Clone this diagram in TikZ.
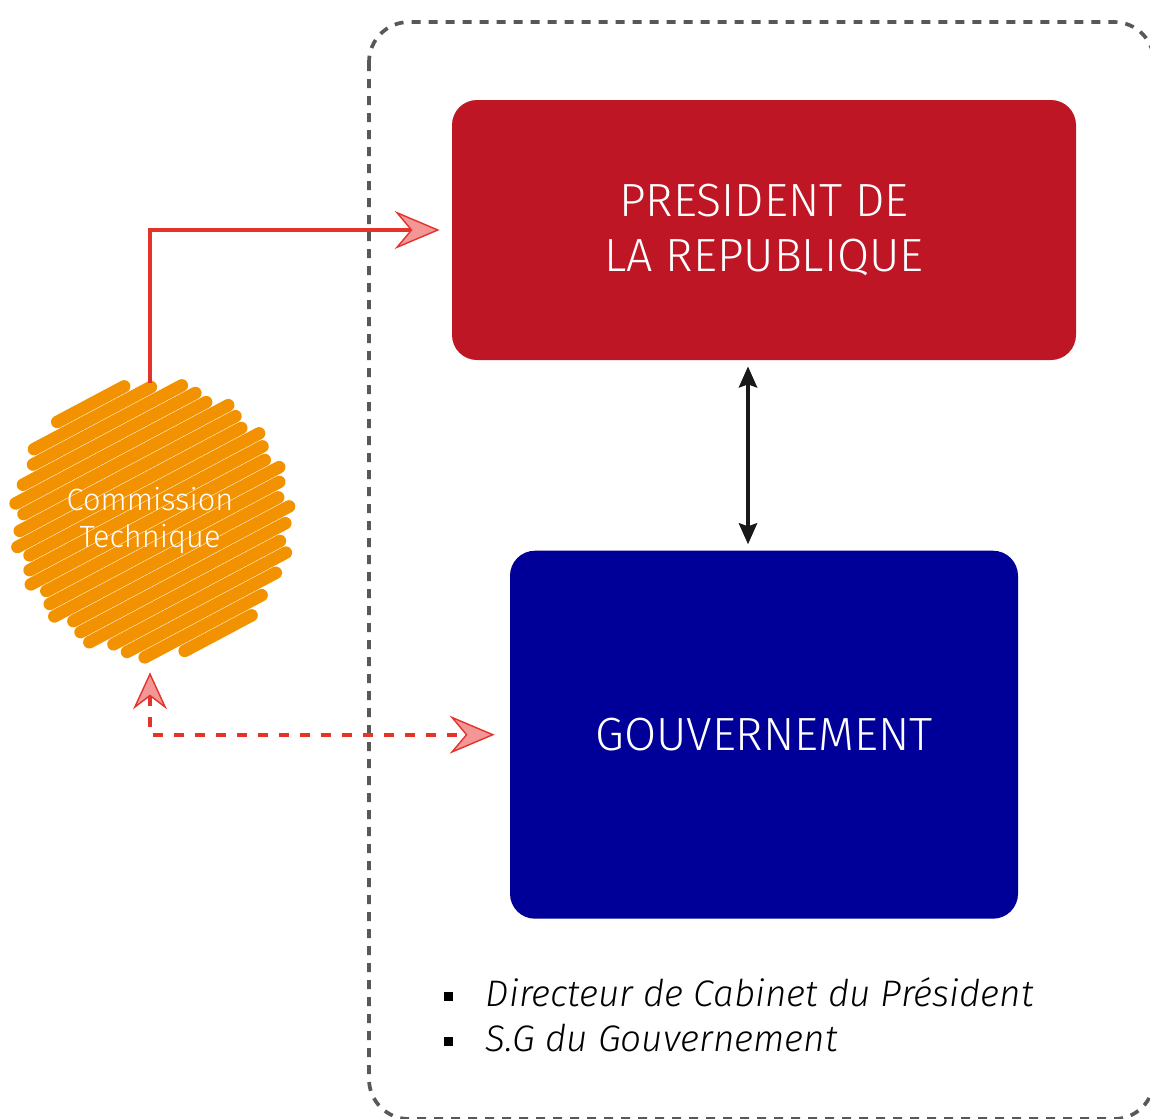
\documentclass[tikz,border=0pt]{standalone}
\usepackage{fontspec}
\setmainfont{Fira Sans}[UprightFont={* Light}, ItalicFont={* Light Italic}]
\usetikzlibrary{
  arrows.meta,
  backgrounds,
  positioning,
}
\definecolor{presred}{RGB}{190,22,36}
\definecolor{govblue}{RGB}{0,0,153}
\definecolor{commorange}{RGB}{243,146,0}
\definecolor{linkred}{RGB}{229,50,42}
\definecolor{tipfill}{RGB}{242,150,150}
\definecolor{framegray}{RGB}{88,88,88}
\tikzset{
  redtip/.tip={Stealth[length=0.9cm, width=0.76cm, inset=0.32cm, fill=tipfill, line width=0.8pt]},
  blacktip/.tip={Stealth[length=0.42cm, width=0.36cm, inset=0.06cm]},
  office/.style={
    rectangle,
    rounded corners=0.5cm,
    draw=none,
    text=white,
    align=center,
    font=\fontsize{26.5}{31.5}\selectfont,
  },
  commission/.style={
    circle,
    minimum size=5.52cm,
    inner sep=0pt,
    text=white,
    align=center,
    font=\fontsize{17.5}{21}\selectfont,
  },
  scribble/.style={
    commorange,
    line width=0.25cm,
    line cap=round,
  },
  frame/.style={
    framegray,
    line width=2.1pt,
    dash pattern=on 0.18cm off 0.16cm,
    rounded corners=0.8cm,
  },
  link/.style={
    linkred,
    line width=2.3pt,
  },
  dashlink/.style={
    linkred,
    line width=2.3pt,
    dash pattern=on 0.2cm off 0.22cm,
  },
  both/.style={
    black!90,
    line width=2.4pt,
    {blacktip}-{blacktip},
  },
}

\begin{document}
\begin{tikzpicture}[
    node distance=3.8cm,
  ]

  \useasboundingbox (0,0) rectangle (23,-22.36);

  % Frame
  \draw [frame] (7.38,-0.44) rectangle (23.08,-22.38);

  % Offices
  \node (pres) [office, fill=presred, minimum width=12.48cm, minimum height=5.2cm]
    at (15.28,-4.6) {PRESIDENT DE\\LA REPUBLIQUE};
  \node (gov) [office, fill=govblue, minimum width=10.16cm, minimum height=7.36cm,
    below=of pres] {GOUVERNEMENT};

  % Commission
  \node (comm) [commission] at (3,-10.42) {Commission\\Technique};
  \begin{scope}[on background layer, shift={(comm.center)}, rotate=28]
    \foreach \i in {-10,...,10} {
      \pgfmathsetmacro\d{0.262*\i}
      \pgfmathsetmacro\h{sqrt(2.76*2.76-\d*\d)-0.06}
      \pgfmathsetmacro\e{0.1*mod(\i+21,3)}
      \draw [scribble] (-\h+\e,\d) -- (\h-0.1+\e,\d);
    }
  \end{scope}

  % Members
  \node (staff) [anchor=west, inner sep=0pt, align=left,
    font=\fontsize{21}{25.5}\selectfont\itshape] at (8.88,-20.29)
    {\rule[0.1cm]{0.17cm}{0.19cm}\hspace{0.66cm}Directeur de Cabinet du Président\\
     \rule[0.1cm]{0.17cm}{0.19cm}\hspace{0.66cm}S.G du Gouvernement};

  % Arrows
  \draw [link, -{redtip}, shorten >=0.24cm] (comm.north) |- (pres.west);
  \draw [dashlink, {redtip[length=0.74cm, width=0.68cm, inset=0.26cm]}-{redtip},
    shorten <=0.26cm, shorten >=0.3cm] (comm.south) |- (gov.west);
  \draw [both, shorten <=0.12cm, shorten >=0.12cm]
    ([xshift=-0.32cm]pres.south) -- ([xshift=-0.32cm]gov.north);

\end{tikzpicture}
\end{document}
